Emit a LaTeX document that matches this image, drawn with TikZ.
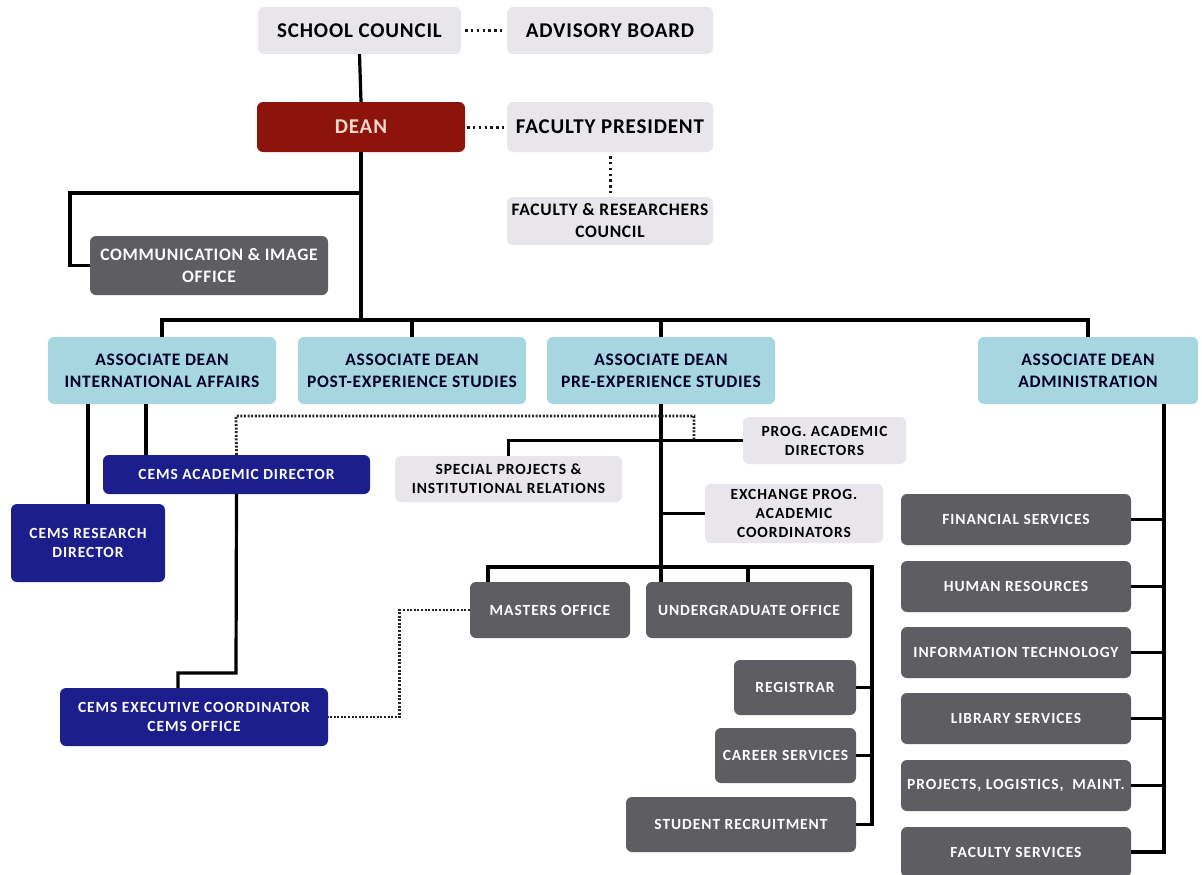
\documentclass[tikz,border=0pt]{standalone}
\usepackage{fontspec}
\setmainfont{Carlito}
\usetikzlibrary{calc}
\definecolor{lgray}{RGB}{232,230,235}
\definecolor{ablue}{RGB}{166,214,224}
\definecolor{dgray}{RGB}{94,93,97}
\definecolor{navyb}{RGB}{27,30,140}
\definecolor{deanred}{RGB}{140,20,10}
\definecolor{deantxt}{RGB}{245,215,205}
\newcommand\bx[7]{\node[#2, minimum width={(#5-#3)*1pt}, minimum height={(#6-#4)*1pt}] (#1) at ({(#3+#5)/2},{(#4+#6)/2}) {#7};}
\tikzset{
  box/.style={rounded corners=6pt, inner sep=0pt, align=center, font=\bfseries},
  lg/.style={box, fill=lgray, text=black},
  ab/.style={box, fill=ablue, text=black!85!blue},
  dg/.style={box, fill=dgray, text=white},
  nv/.style={box, fill=navyb, text=white},
  rd/.style={box, fill=deanred, text=deantxt},
  fa/.style={font=\fontsize{21}{24}\selectfont\bfseries\addfontfeature{LetterSpace=4}},
  fb/.style={font=\fontsize{17.5}{22}\selectfont\bfseries\addfontfeature{LetterSpace=4}},
  fc/.style={font=\fontsize{15.5}{19}\selectfont\bfseries\addfontfeature{LetterSpace=6}},
  ln/.style={line width=3.2pt, black},
  dt/.style={line width=3pt, black!90, dash pattern=on 2.4pt off 3.4pt},
  dts/.style={line width=2.8pt, black!85, dash pattern=on 2pt off 1.6pt},
}
\begin{document}
\begin{tikzpicture}[x=1pt,y=-1pt]
\useasboundingbox[fill=white] (0,0) rectangle (1202,875);
% top
\bx{sc}{lg,fa}{258}{7}{461}{54}{SCHOOL COUNCIL}
\bx{ab}{lg,fa}{507}{7}{713}{54}{ADVISORY BOARD}
\bx{dean}{rd,fa}{257}{102}{465}{152}{DEAN}
\bx{fp}{lg,fa}{507}{102}{713}{152}{FACULTY PRESIDENT}
\bx{frc}{lg,fb}{507}{197}{713}{245}{FACULTY \& RESEARCHERS\\COUNCIL}
\bx{comm}{dg,fb}{90}{236}{328}{295}{COMMUNICATION \& IMAGE\\OFFICE}
% associate deans
\bx{adi}{ab,fb}{48}{337}{276}{404}{ASSOCIATE DEAN\\INTERNATIONAL AFFAIRS}
\bx{adp}{ab,fb}{298}{337}{526}{404}{ASSOCIATE DEAN\\POST-EXPERIENCE STUDIES}
\bx{adpre}{ab,fb}{547}{337}{775}{404}{ASSOCIATE DEAN\\PRE-EXPERIENCE STUDIES}
\bx{ada}{ab,fb}{978}{337}{1198}{404}{ASSOCIATE DEAN\\ADMINISTRATION}
% international
\bx{cad}{nv,fc}{103}{455}{370}{494}{CEMS ACADEMIC DIRECTOR}
\bx{crd}{nv,fc}{11}{504}{165}{582}{CEMS RESEARCH\\DIRECTOR}
\bx{cex}{nv,fc}{60}{688}{328}{746}{CEMS EXECUTIVE COORDINATOR\\CEMS OFFICE}
% pre-experience
\bx{pad}{lg,fc}{743}{417}{906}{464}{PROG. ACADEMIC\\DIRECTORS}
\bx{sp}{lg,fc}{395}{456}{622}{502}{SPECIAL PROJECTS \&\\INSTITUTIONAL RELATIONS}
\bx{epc}{lg,fc}{705}{484}{883}{543}{EXCHANGE PROG.\\ACADEMIC\\COORDINATORS}
\bx{mo}{dg,fc}{470}{582}{630}{638}{MASTERS OFFICE}
\bx{ugo}{dg,fc}{646}{582}{852}{638}{UNDERGRADUATE OFFICE}
\bx{reg}{dg,fc}{734}{660}{856}{715}{REGISTRAR}
\bx{car}{dg,fc}{715}{728}{856}{783}{CAREER SERVICES}
\bx{sr}{dg,fc}{626}{797}{856}{852}{STUDENT RECRUITMENT}
% administration
\bx{fin}{dg,fc}{901}{494}{1131}{545}{FINANCIAL SERVICES}
\bx{hr}{dg,fc}{901}{561}{1131}{612}{HUMAN RESOURCES}
\bx{it}{dg,fc}{901}{627}{1131}{678}{INFORMATION TECHNOLOGY}
\bx{lib}{dg,fc}{901}{693}{1131}{744}{LIBRARY SERVICES}
\bx{plm}{dg,fc}{901}{760}{1131}{811}{PROJECTS, LOGISTICS, \ MAINT.}
\bx{fac}{dg,fc}{901}{827}{1131}{877}{FACULTY SERVICES}

% coordinates
\coordinate (j1) at (361,193);
\coordinate (c1) at (70,193);
\coordinate (bus) at (361,320);
\coordinate (k1) at (146,404);
\coordinate (d1) at (236,673);
\coordinate (d2) at (178,673);
\coordinate (q1) at (236,416);
\coordinate (q2) at (694,416);
\coordinate (q3) at (694,440.5);
\coordinate (b2) at (661,567);
\coordinate (m1) at (488,567);
\coordinate (u1) at (748,567);
\coordinate (r1) at (872,567);
\coordinate (av) at (1164,404);

% solid connectors
\draw[ln] (sc.south) -- (dean.north);
\draw[ln] (dean.south) -- (bus);
\draw[ln] (j1) -- (c1) |- (comm.west);
\draw[ln] (adi.north) -- (adi.north |- bus) -- (ada.north |- bus) -- (ada.north);
\draw[ln] (adp.north) -- (adp.north |- bus);
\draw[ln] (adpre.north) -- (adpre.north |- bus);
\draw[ln] (crd.north) -- (crd.north |- adi.south);
\draw[ln] (k1) -- (k1 |- cad.north);
\draw[ln] (cad.south) -- (d1) -- (d2) -- (d2 |- cex.north);
\draw[ln] (adpre.south) -- (b2) -- (b2 |- ugo.north);
\draw[ln] (sp.north) |- (pad.west);
\draw[ln] (epc.west) -- (epc.west -| adpre.south);
\draw[ln] (m1 |- mo.north) -- (m1) -- (r1) -- (r1 |- sr.east) -- (sr.east);
\draw[ln] (u1) -- (u1 |- ugo.north);
\draw[ln] ($(ugo.east)+(0,-10)$) -- ($(ugo.east)+(0,-10)$ -| r1);
\draw[ln] (reg.east) -- (reg.east -| r1);
\draw[ln] (car.east) -- (car.east -| r1);
\draw[ln] (ada.south -| av) -- (fac.east -| av) -- (fac.east);
\foreach \n in {fin,hr,it,lib,plm} \draw[ln] (\n.east) -- (\n.east -| av);

% dotted connectors
\draw[dt, shorten <=4pt, shorten >=4pt] (sc.east) -- (ab.west);
\draw[dt, shorten <=2pt, shorten >=3pt] (dean.east) -- (fp.west);
\draw[dt, shorten <=4pt, shorten >=3pt] (fp.south) -- (frc.north);
\draw[dts] (cad.north) -- (q1) -- (q2) -- (q3);
\draw[dts] (mo.west) -- ++(-70,0) |- (cex.east);
\end{tikzpicture}
\end{document}
